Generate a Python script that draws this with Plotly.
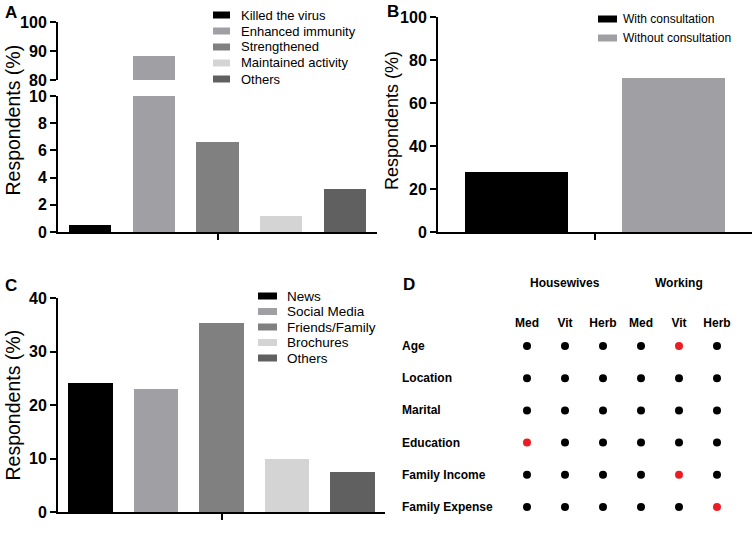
import plotly.graph_objects as go

# ---------------- data ----------------
a_categories = ["Killed the virus", "Enhanced immunity", "Strengthened", "Maintained activity", "Others"]
a_values = [0.55, 88.3, 6.6, 1.15, 3.15]
a_colors = ["#000000", "#a0a0a4", "#808080", "#d4d4d4", "#606060"]
a_low_ticks = [0, 2, 4, 6, 8, 10]
a_high_ticks = [80, 90, 100]

b_categories = ["With consultation", "Without consultation"]
b_values = [28.0, 71.6]
b_colors = ["#000000", "#a0a0a4"]
b_ticks = [0, 20, 40, 60, 80, 100]

c_categories = ["News", "Social Media", "Friends/Family", "Brochures", "Others"]
c_values = [24.2, 23.0, 35.3, 9.9, 7.5]
c_colors = ["#000000", "#a0a0a4", "#808080", "#d4d4d4", "#606060"]
c_ticks = [0, 10, 20, 30, 40]

d_groups = ["Housewives", "Working"]
d_supplements = ["Med", "Vit", "Herb"]
d_factors = ["Age", "Location", "Marital", "Education", "Family Income", "Family Expense"]
# 1 = significant (red), 0 = not significant (black); columns: Housewives Med/Vit/Herb, Working Med/Vit/Herb
d_significant = [
    [0, 0, 0, 0, 1, 0],
    [0, 0, 0, 0, 0, 0],
    [0, 0, 0, 0, 0, 0],
    [1, 0, 0, 0, 0, 0],
    [0, 0, 0, 0, 1, 0],
    [0, 0, 0, 0, 0, 1],
]

# ---------------- layout helpers ----------------
W, H = 753, 535
FONT = "Liberation Sans, Arial, Helvetica, sans-serif"


def fx(px):
    return px / W


def fy(py):
    return 1 - py / H


fig = go.Figure()

# Panel A: broken axis -> same bars on two stacked y axes
for yref in ["y", "y2"]:
    fig.add_trace(go.Bar(x=a_categories, y=a_values, marker=dict(color=a_colors, line=dict(width=0)),
                         width=0.66, xaxis="x", yaxis=yref, showlegend=False, hoverinfo="x+y"))

# Panel B
fig.add_trace(go.Bar(x=list(range(len(b_categories))), y=b_values, marker=dict(color=b_colors, line=dict(width=0)),
                     width=0.66, xaxis="x2", yaxis="y3", showlegend=False,
                     hovertext=b_categories, hoverinfo="text+y"))

# Panel C
fig.add_trace(go.Bar(x=c_categories, y=c_values, marker=dict(color=c_colors, line=dict(width=0)),
                     width=0.68, xaxis="x3", yaxis="y4", showlegend=False, hoverinfo="x+y"))

# Panel D: dot matrix
col_ids = [f"{g}|{s}" for g in d_groups for s in d_supplements]
col_text = [s for g in d_groups for s in d_supplements]
dx, dy, dc = [], [], []
for r, fac in enumerate(d_factors):
    for c, cid in enumerate(col_ids):
        dx.append(cid)
        dy.append(fac)
        dc.append("#ec1c24" if d_significant[r][c] else "#000000")
fig.add_trace(go.Scatter(x=dx, y=dy, mode="markers", marker=dict(size=8, color=dc),
                         xaxis="x4", yaxis="y5", showlegend=False, hoverinfo="x+y"))

tick_font = dict(family=FONT, size=16, color="#000000", weight=700)
yax_common = dict(showline=True, linecolor="#000000", linewidth=2, ticks="outside", ticklen=6, tickwidth=2,
                  tickcolor="#000000", showgrid=False, zeroline=False, tickfont=tick_font, tickmode="array",
                  automargin=False)
xax_common = dict(showline=True, linecolor="#000000", linewidth=2, ticks="outside", ticklen=6, tickwidth=2,
                  tickcolor="#000000", showgrid=False, zeroline=False, showticklabels=False, tickmode="array",
                  automargin=False)

fig.update_layout(
    width=W, height=H, margin=dict(l=0, r=0, t=0, b=0, pad=0), autosize=False,
    paper_bgcolor="white", plot_bgcolor="white",
    font=dict(family=FONT, color="#000000"),
    bargap=0,
    xaxis=dict(domain=[fx(58), fx(377)], anchor="y", type="category", categoryorder="array",
               categoryarray=a_categories, range=[-0.5, 4.5], tickvals=[a_categories[2]], **xax_common),
    yaxis=dict(domain=[fy(232), fy(96)], anchor="x", range=[0, 10], tickvals=a_low_ticks, **yax_common),
    yaxis2=dict(domain=[fy(80), fy(22)], anchor="x", range=[80, 100], tickvals=a_high_ticks, **yax_common),
    xaxis2=dict(domain=[fx(438), fx(752)], anchor="y3", range=[-0.5, 1.5], tickvals=[0.5], **xax_common),
    yaxis3=dict(domain=[fy(232), fy(17)], anchor="x2", range=[0, 100], tickvals=b_ticks, **yax_common),
    xaxis3=dict(domain=[fx(58), fx(385)], anchor="y4", type="category", categoryorder="array",
                categoryarray=c_categories, range=[-0.5, 4.5], tickvals=[c_categories[2]], **xax_common),
    yaxis4=dict(domain=[fy(512), fy(298)], anchor="x3", range=[0, 40], tickvals=c_ticks, **yax_common),
    xaxis4=dict(domain=[fx(508), fx(736)], anchor="y5", type="category", categoryorder="array",
                categoryarray=col_ids, range=[-0.5, 5.5], side="top", tickmode="array", automargin=False,
                tickvals=col_ids, ticktext=col_text, showline=False, showgrid=False, zeroline=False, ticks="",
                tickfont=dict(family=FONT, size=12, color="#000000", weight=700)),
    yaxis5=dict(domain=[fy(523), fy(330)], anchor="x4", type="category", categoryorder="array",
                categoryarray=d_factors, range=[5.5, -0.5], showline=False, showgrid=False, zeroline=False,
                showticklabels=False, ticks="", automargin=False),
)

ann = []
shapes = []

# panel letters
for letter, px, py in [("A", 3, 12), ("B", 385, 11), ("C", 3, 285), ("D", 401, 284)]:
    ann.append(dict(text=letter, x=fx(px), y=fy(py), xref="paper", yref="paper", xanchor="left",
                    yanchor="middle", showarrow=False, font=dict(family=FONT, size=17, weight=700)))

# axis titles
for px, py, size in [(12.5, 120, 19.5), (392, 121, 18), (12.5, 405, 19.5)]:
    ann.append(dict(text="Respondents (%)", textangle=-90, x=fx(px), y=fy(py), xref="paper", yref="paper",
                    xanchor="center", yanchor="middle", showarrow=False, font=dict(family=FONT, size=size)))


def legend(names, colors, sx0, sx1, tx, y0, step, font):
    for i, (n, c) in enumerate(zip(names, colors)):
        cy = y0 + i * step
        shapes.append(dict(type="rect", xref="paper", yref="paper", x0=fx(sx0), x1=fx(sx1),
                           y0=fy(cy + 3.5), y1=fy(cy - 3.5), fillcolor=c, line=dict(width=0)))
        ann.append(dict(text=n, x=fx(tx), y=fy(cy), xref="paper", yref="paper", xanchor="left",
                        yanchor="middle", showarrow=False, font=font))


legend(a_categories, a_colors, 213, 230, 239, 15, 16, dict(family=FONT, size=13))
legend(b_categories, b_colors, 598, 617, 621, 19, 19, dict(family=FONT, size=12))
legend(c_categories, c_colors, 258, 277, 285, 296, 15.5, dict(family=FONT, size=13.5))

# panel D headers and row labels
for g, mid in zip(d_groups, [col_ids[1], col_ids[4]]):
    ann.append(dict(text=g, x=mid, y=fy(283), xref="x4", yref="paper", xanchor="center", yanchor="middle",
                    showarrow=False, font=dict(family=FONT, size=12, weight=700)))
for fac in d_factors:
    ann.append(dict(text=fac, x=fx(400), y=fac, xref="paper", yref="y5", xanchor="left", yanchor="middle",
                    showarrow=False, font=dict(family=FONT, size=12, weight=700)))

fig.update_layout(annotations=ann, shapes=shapes)
fig.write_html("out.html", config={"displayModeBar": False},
               post_script="document.body.style.margin='0';document.body.style.overflow='hidden';")
